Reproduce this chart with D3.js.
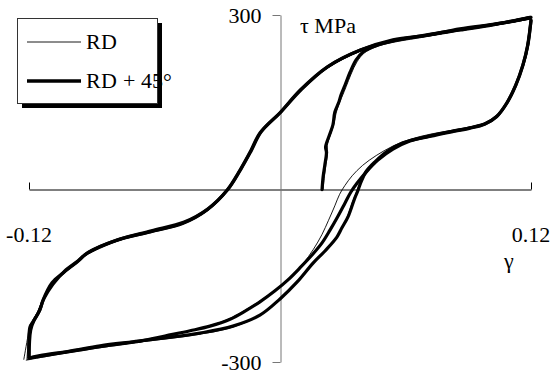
<!DOCTYPE html>
<html>
<head>
<meta charset="utf-8">
<script src="https://cdn.jsdelivr.net/npm/d3@7"></script>
<style>
  @font-face { font-family: "ChartSerif"; src: local("Liberation Serif"), local("LiberationSerif"); }
</style>
</head>
<body style="margin:0">
<div id="chart"></div>
<script>
// shear strain (gamma) / shear stress (tau, MPa)
const seriesNames = ['RD', 'RD + 45°'];
const xTicks = [-0.12, 0.12];
const yTicks = [-300, 300];

// RD + 45° (thick)
const rd45Initial = [[0.0201, -2], [0.0206, 20], [0.0214, 40], [0.0222, 62], [0.0218, 72], [0.0236, 92],
  [0.0253, 110], [0.0262, 132], [0.0282, 150], [0.0292, 162], [0.0311, 179], [0.0335, 201], [0.0363, 222],
  [0.0397, 236], [0.0454, 246], [0.0540, 255], [0.0703, 265], [0.0860, 276], [0.1018, 284], [0.1123, 290],
  [0.1195, 296]];
const rd45Unload1 = [[0.1200, 291], [0.1185, 248], [0.1162, 214], [0.1128, 179], [0.1085, 148], [0.1037, 125],
  [0.0980, 112], [0.0908, 105], [0.0822, 99], [0.0717, 91], [0.0621, 82], [0.0540, 68], [0.0468, 49],
  [0.0411, 28], [0.0368, 9], [0.0339, -6], [0.0311, -25], [0.0277, -48], [0.0239, -72], [0.0201, -94],
  [0.0153, -115], [0.0096, -137], [0.0038, -158], [-0.0024, -177], [-0.0096, -196], [-0.0167, -212],
  [-0.0239, -226], [-0.0335, -238], [-0.0430, -246], [-0.0550, -255], [-0.0669, -264], [-0.0813, -271],
  [-0.0956, -279], [-0.1076, -286], [-0.1195, -293]];
const rd45Reload1 = [[-0.1200, -291], [-0.1195, -239], [-0.1181, -231], [-0.1148, -210], [-0.1133, -193],
  [-0.1090, -163], [-0.1037, -146], [-0.0970, -127], [-0.0923, -112], [-0.0779, -89], [-0.0621, -75],
  [-0.0463, -60], [-0.0349, -37], [-0.0253, -3], [-0.0191, 32], [-0.0143, 63], [-0.0096, 96], [0.0000, 131],
  [0.0096, 170], [0.0225, 210], [0.0382, 239], [0.0540, 257], [0.0703, 265], [0.0860, 274], [0.1018, 283],
  [0.1195, 295]];
const rd45Unload2 = [[0.1200, 290], [0.1183, 246], [0.1160, 212], [0.1126, 178], [0.1083, 147], [0.1035, 124],
  [0.0978, 111], [0.0905, 104], [0.0820, 98], [0.0715, 90], [0.0588, 79], [0.0516, 65], [0.0454, 46],
  [0.0411, 29], [0.0387, 11], [0.0373, -3], [0.0354, -20], [0.0325, -49], [0.0296, -68], [0.0272, -84],
  [0.0215, -108], [0.0158, -129], [0.0081, -162], [0.0000, -191], [-0.0096, -219], [-0.0225, -238],
  [-0.0382, -250], [-0.0540, -258], [-0.0703, -265], [-0.0860, -272], [-0.1004, -281], [-0.1148, -289],
  [-0.1200, -293]];
const rd45Reload2 = [[-0.1200, -293], [-0.1192, -245], [-0.1176, -228], [-0.1152, -213], [-0.1128, -190],
  [-0.1085, -165], [-0.1030, -143], [-0.0965, -125], [-0.0915, -110], [-0.0772, -88], [-0.0615, -73],
  [-0.0458, -58], [-0.0344, -35], [-0.0248, -1], [-0.0186, 34], [-0.0138, 65], [-0.0090, 98], [0.0006, 133],
  [0.0102, 171], [0.0230, 211], [0.0388, 240], [0.0545, 256], [0.0708, 266], [0.0865, 275], [0.1023, 284],
  [0.1200, 296]];

// RD (thin)
const rdInitial = [[0.0206, -2], [0.0212, 20], [0.0220, 42], [0.0228, 62], [0.0226, 74], [0.0242, 94],
  [0.0258, 112], [0.0268, 130], [0.0286, 150], [0.0298, 160], [0.0316, 176], [0.0340, 198], [0.0368, 219],
  [0.0402, 234], [0.0459, 245], [0.0545, 253], [0.0708, 263], [0.0865, 274], [0.1023, 282], [0.1128, 288],
  [0.1200, 294]];
const rdUnload1 = [[0.1200, 290], [0.1190, 250], [0.1168, 216], [0.1133, 182], [0.1090, 150], [0.1040, 128],
  [0.0985, 114], [0.0912, 107], [0.0826, 101], [0.0720, 94], [0.0622, 85], [0.0538, 73], [0.0460, 57],
  [0.0395, 40], [0.0345, 22], [0.0310, 5], [0.0285, -10], [0.0262, -30], [0.0232, -55], [0.0200, -80],
  [0.0160, -105], [0.0110, -130], [0.0050, -153], [-0.0015, -173], [-0.0090, -193], [-0.0165, -210],
  [-0.0240, -225], [-0.0335, -237], [-0.0430, -246], [-0.0550, -256], [-0.0670, -265], [-0.0815, -273],
  [-0.0960, -281], [-0.1080, -288], [-0.1215, -297]];
const rdReload1 = [[-0.1225, -296], [-0.1205, -255], [-0.1195, -236], [-0.1160, -214], [-0.1140, -196],
  [-0.1095, -167], [-0.1042, -149], [-0.0975, -130], [-0.0928, -116], [-0.0782, -92], [-0.0625, -77],
  [-0.0467, -62], [-0.0352, -40], [-0.0258, -7], [-0.0196, 28], [-0.0148, 60], [-0.0100, 92], [-0.0004, 128],
  [0.0092, 167], [0.0222, 207], [0.0380, 237], [0.0540, 255], [0.0705, 264], [0.0862, 273], [0.1020, 282],
  [0.1200, 293]];
const rdUnload2 = [[0.1195, 288], [0.1180, 246], [0.1158, 212], [0.1123, 177], [0.1080, 146], [0.1032, 123],
  [0.0975, 110], [0.0903, 103], [0.0818, 97], [0.0712, 89], [0.0585, 77], [0.0512, 62], [0.0448, 43],
  [0.0405, 26], [0.0380, 8], [0.0366, -6], [0.0347, -23], [0.0318, -52], [0.0290, -71], [0.0265, -87],
  [0.0208, -111], [0.0150, -132], [0.0074, -164], [-0.0006, -193], [-0.0100, -220], [-0.0228, -240],
  [-0.0385, -252], [-0.0545, -260], [-0.0705, -267], [-0.0862, -274], [-0.1005, -283], [-0.1150, -291],
  [-0.1210, -296]];
const rdReload2 = [[-0.1210, -296], [-0.1198, -250], [-0.1185, -233], [-0.1155, -211], [-0.1135, -194],
  [-0.1092, -166], [-0.1040, -148], [-0.0973, -129], [-0.0925, -114], [-0.0780, -91], [-0.0623, -76],
  [-0.0465, -61], [-0.0350, -38], [-0.0255, -5], [-0.0193, 30], [-0.0145, 62], [-0.0098, 94], [-0.0002, 130],
  [0.0094, 168], [0.0224, 208], [0.0381, 238], [0.0542, 256], [0.0705, 265], [0.0862, 274], [0.1020, 283],
  [0.1198, 294]];

const rdData = [rdInitial, rdUnload1, rdReload1, rdUnload2, rdReload2];
const rd45Data = [rd45Initial, rd45Unload1, rd45Reload1, rd45Unload2, rd45Reload2];

const width = 554, height = 374;

const svg = d3.select('#chart')
  .append('svg')
  .attr('width', width)
  .attr('height', height);

const x = d3.scaleLinear().domain([-0.12, 0.12]).range([29, 531]);
const y = d3.scaleLinear().domain([-300, 300]).range([362, 15]);

const x0 = Math.round(x(0)) + 0.5;
const y0 = Math.round(y(0)) + 0.5;

// text labels go in first, through a data join
const labelData = [
  ...xTicks.map(d => ({ tx: x(d), ty: 242, str: String(d), anchor: 'middle' })),
  ...yTicks.map(d => ({ tx: x0 - 19, ty: y(d) + 8, str: String(d), anchor: 'end' })),
  { tx: 300, ty: 33, str: 'τ MPa', anchor: 'start' },
  { tx: 504, ty: 268, str: 'γ', anchor: 'start' }
];

svg.selectAll('text.lbl')
  .data(labelData)
  .enter()
  .append('text')
    .attr('class', 'lbl')
    .attr('x', d => d.tx)
    .attr('y', d => d.ty)
    .attr('text-anchor', d => d.anchor)
    .attr('font-size', '22px')
    .style('font-family', d => '"Liberation Serif"')
    .text(d => d.str);

// x axis (ticks pointing up, labels drawn separately)
svg.append('g')
  .attr('transform', `translate(0,${y0})`)
  .call(d3.axisTop(x).tickValues(xTicks).tickSize(7).tickSizeOuter(0).tickFormat(''))
  .call(g => g.selectAll('text').remove())
  .call(g => g.selectAll('path, line').attr('stroke', '#000'));

// y axis
svg.append('g')
  .attr('transform', `translate(${x0},0)`)
  .call(d3.axisLeft(y).tickValues(yTicks).tickSize(8).tickSizeOuter(0).tickFormat(''))
  .call(g => g.selectAll('text').remove())
  .call(g => g.selectAll('path, line').attr('stroke', '#777'));

const line = d3.line()
  .curve(d3.curveCatmullRom.alpha(0.5))
  .x(d => x(d[0]))
  .y(d => y(d[1]));

svg.selectAll('path.rd45')
  .data(rd45Data)
  .enter()
  .append('path')
    .attr('class', 'rd45')
    .attr('d', line)
    .attr('fill', 'none')
    .attr('stroke', '#000')
    .attr('stroke-width', 3.2)
    .attr('stroke-linejoin', 'round')
    .attr('stroke-linecap', 'round');

svg.selectAll('path.rd')
  .data(rdData)
  .enter()
  .append('path')
    .attr('class', 'rd')
    .attr('d', line)
    .attr('fill', 'none')
    .attr('stroke', '#000')
    .attr('stroke-width', 0.9);

// legend with drop shadow
svg.append('rect')
  .attr('x', 22).attr('y', 23)
  .attr('width', 140).attr('height', 85)
  .attr('fill', '#000');
svg.append('rect')
  .attr('x', 17.5).attr('y', 18.5)
  .attr('width', 140).attr('height', 85)
  .attr('fill', 'white')
  .attr('stroke', '#333');

svg.selectAll('line.key')
  .data(seriesNames)
  .enter()
  .append('line')
    .attr('class', 'key')
    .attr('x1', 27).attr('x2', 81)
    .attr('y1', (d, i) => 42 + i * 39)
    .attr('y2', (d, i) => 42 + i * 39)
    .attr('stroke', '#000')
    .attr('stroke-width', (d, i) => i === 0 ? 0.9 : 3.5);

svg.selectAll('text.key')
  .data(seriesNames)
  .enter()
  .append('text')
    .attr('class', 'key')
    .attr('x', 86)
    .attr('y', (d, i) => 49 + i * 39)
    .attr('font-size', '22px')
    .style('font-family', d => '"ChartSerif", "Liberation Serif"')
    .text(d => d);
</script>
</body>
</html>
